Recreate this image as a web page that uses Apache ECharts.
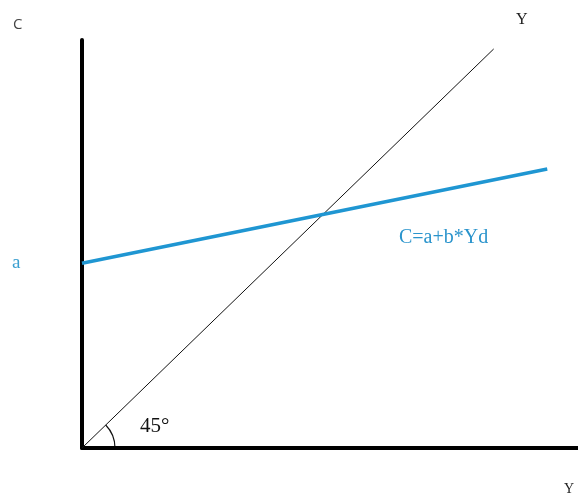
<!DOCTYPE html>
<html>
<head>
<meta charset="utf-8">
<script src="https://cdn.jsdelivr.net/npm/echarts@6/dist/echarts.min.js"></script>
<style>
  html, body { margin: 0; padding: 0; background: #fff; }
  #container { width: 578px; height: 493px; }
</style>
</head>
<body>
<div id="container"></div>
<script>
// Keynesian cross: 45 degree line and consumption function
var diagonalLine = [[0, 0], [83, 97.8]];
var consumptionLine = [[0, 45.3], [93.8, 68.4]];
var interceptA = 45.3;

var dom = document.getElementById('container');
var myChart = echarts.init(dom, null, { renderer: 'canvas' });

var option = {
  animation: false,
  grid: { left: 82, right: 0, top: 40, bottom: 45 },
  xAxis: {
    type: 'value', min: 0, max: 100,
    axisLine: { show: true, onZero: false, lineStyle: { color: '#000', width: 4 } },
    axisTick: { show: false },
    axisLabel: { show: false },
    splitLine: { show: false }
  },
  yAxis: {
    type: 'value', min: 0, max: 100,
    axisLine: { show: true, onZero: false, lineStyle: { color: '#000', width: 4 } },
    axisTick: { show: false },
    axisLabel: { show: false },
    splitLine: { show: false }
  },
  series: [
    {
      type: 'line',
      data: diagonalLine,
      symbol: 'none',
      lineStyle: { color: '#111', width: 1 }
    },
    {
      type: 'line',
      data: consumptionLine,
      symbol: 'none',
      lineStyle: { color: '#1f96d2', width: 3.5 }
    }
  ]
};
myChart.setOption(option);

// annotations placed from the chart's own scales
var origin = myChart.convertToPixel({ gridIndex: 0 }, [0, 0]);
var aPix = myChart.convertToPixel({ gridIndex: 0 }, [0, interceptA]);
var diagEnd = myChart.convertToPixel({ gridIndex: 0 }, diagonalLine[1]);
var angle = Math.atan2(origin[1] - diagEnd[1], diagEnd[0] - origin[0]);
var serif = '"Liberation Serif", "DejaVu Serif", serif';

myChart.setOption({
  graphic: [
    { type: 'text', left: 13, top: 17, style: { text: 'C', font: '15px "Open Sans", sans-serif', fill: '#444' } },
    { type: 'text', left: 516, top: 12, style: { text: 'Y', font: '16px ' + serif, fill: '#222' } },
    { type: 'text', left: 12, top: aPix[1] - 10, style: { text: 'a', font: '19px ' + serif, fill: '#3a9fd0' } },
    { type: 'text', left: 399, top: 228, style: { text: 'C=a+b*Yd', font: '20px ' + serif, fill: '#2a94cc' } },
    { type: 'text', left: 140, top: 416, style: { text: '45°', font: '21px ' + serif, fill: '#111' } },
    { type: 'text', left: 564, top: 482, style: { text: 'Y', font: '14px ' + serif, fill: '#222' } },
    {
      type: 'arc',
      shape: { cx: origin[0], cy: origin[1], r: 33, startAngle: -angle, endAngle: 0, clockwise: true },
      style: { stroke: '#111', lineWidth: 1.2, fill: null }
    }
  ]
});

window.addEventListener('resize', myChart.resize);
</script>
</body>
</html>
